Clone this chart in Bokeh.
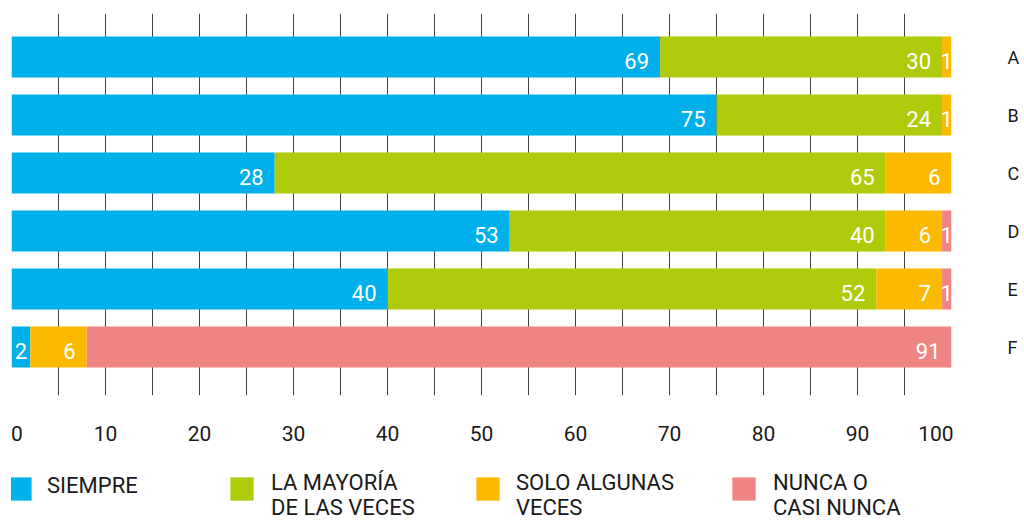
from bokeh.plotting import figure
from bokeh.layouts import column
from bokeh.models import (ColumnDataSource, Range1d, FixedTicker, SingleIntervalTicker,
                          Legend, LegendItem)
from bokeh.core.properties import value
from bokeh.embed import file_html
from bokeh.resources import INLINE

categories = ["A", "B", "C", "D", "E", "F"]
series_keys = ["siempre", "mayoria", "algunas", "nunca"]
series_names = ["SIEMPRE", "LA MAYORÍA\nDE LAS VECES", "SOLO ALGUNAS\nVECES", "NUNCA O\nCASI NUNCA"]
siempre = [69, 75, 28, 53, 40, 2]
mayoria = [30, 24, 65, 40, 52, 0]
algunas = [1, 1, 7, 6, 7, 6]
nunca = [0, 0, 0, 1, 1, 92]
siempre_lbl = ["69", "75", "28", "53", "40", "2"]
mayoria_lbl = ["30", "24", "65", "40", "52", ""]
algunas_lbl = ["1", "1", "6", "6", "7", "6"]
nunca_lbl = ["", "", "", "1", "1", "91"]
colors = ["#00B0EA", "#AFCA0B", "#FBBA00", "#F08482"]
x_ticks = [0, 10, 20, 30, 40, 50, 60, 70, 80, 90, 100]

FONT = "Roboto"
NB = "\u00a0"
ypos = list(range(len(categories)))

p = figure(width=1022, height=450, x_range=Range1d(0, 100), y_range=Range1d(5.836, -0.75),
           output_backend="svg", toolbar_location=None, y_axis_location="right",
           min_border_left=11, min_border_right=70, min_border_top=13, min_border_bottom=55)
p.outline_line_color = None

source = ColumnDataSource(dict(y=ypos, siempre=siempre, mayoria=mayoria, algunas=algunas, nunca=nunca))
renderers = p.hbar_stack(series_keys, y="y", height=0.707, fill_color=colors, line_color=None,
                         source=source)

# value labels
vals = [siempre, mayoria, algunas, nunca]
lbls = [siempre_lbl, mayoria_lbl, algunas_lbl, nunca_lbl]
rx, ry, rt, cx, cy, ct = [], [], [], [], [], []
for i in ypos:
    cum = 0
    for s in range(4):
        v = vals[s][i]
        start, cum = cum, cum + v
        t = lbls[s][i]
        if not t or v <= 0:
            continue
        if v < 3:
            cx.append((start + cum) / 2); cy.append(i); ct.append(t)
        else:
            rx.append(cum); ry.append(i); rt.append(t)

p.text(x="x", y="y", text="t", source=ColumnDataSource(dict(x=rx, y=ry, t=rt)),
       text_align="right", text_baseline="middle", x_offset=-11, y_offset=4,
       text_color="white", text_font=value(FONT), text_font_size="22px")
p.text(x="x", y="y", text="t", source=ColumnDataSource(dict(x=cx, y=cy, t=ct)),
       text_align="center", text_baseline="middle", y_offset=4,
       text_color="white", text_font=value(FONT), text_font_size="22px")

# grid
p.ygrid.visible = False
p.xgrid.ticker = SingleIntervalTicker(interval=5)
p.xgrid.grid_line_color = "#444444"
p.xgrid.grid_line_width = 1

# x axis
xa = p.xaxis[0]
xa.ticker = FixedTicker(ticks=x_ticks)
xa.major_label_overrides = {x_ticks[0]: NB * 2 + "0", x_ticks[-1]: "100" + NB * 6}
xa.axis_line_color = None
xa.major_tick_line_color = None
xa.minor_tick_line_color = None
xa.major_tick_out = 0
xa.major_tick_in = 0
xa.major_label_standoff = 26
xa.major_label_text_font = FONT
xa.major_label_text_font_size = "21px"
xa.major_label_text_color = "#1a1a1a"

# y axis (right)
ya = p.yaxis[0]
ya.ticker = FixedTicker(ticks=ypos)
ya.major_label_overrides = {i: c for i, c in zip(ypos, categories)}
ya.axis_line_color = None
ya.major_tick_line_color = None
ya.minor_tick_line_color = None
ya.major_tick_out = 0
ya.major_tick_in = 0
ya.major_label_standoff = 56
ya.major_label_text_font = FONT
ya.major_label_text_font_size = "18px"
ya.major_label_text_color = "#1a1a1a"

# legend panel
p2 = figure(width=1022, height=70, x_range=Range1d(0, 1), y_range=Range1d(0, 1),
            output_backend="svg", toolbar_location=None, min_border=0,
            x_axis_location=None, y_axis_location=None)
p2.outline_line_color = None
p2.grid.visible = False
leg_renderers = [p2.hbar(y="y", left=0, right=k, height=1, fill_color=c, line_color=None,
                         source=source, visible=False)
                 for k, c in zip(series_keys, colors)]

common = dict(padding=0, margin=0, border_line_color=None, background_fill_alpha=0,
              inactive_fill_alpha=0, label_text_font=FONT, label_text_font_size="22px",
              label_text_color="#1a1a1a", label_text_line_height=1.1)
sq_x = [-6, 216, 462, 718]
txt_x = [36, 260, 505, 762]
txt_y = [20, 0, 0, 0]
for r, name, sx, tx, ty in zip(leg_renderers, series_names, sq_x, txt_x, txt_y):
    # colour square
    p2.add_layout(Legend(items=[LegendItem(label=" ", renderers=[r])], location=(sx, 17),
                         glyph_width=29, glyph_height=29, label_standoff=0, **common), "center")
    # text
    p2.add_layout(Legend(items=[LegendItem(label=name, renderers=[r])], location=(tx, ty),
                         glyph_width=0, glyph_height=29, label_standoff=0, **common), "center")

layout = column(p, p2, spacing=0)
open("out.html", "w").write(file_html(layout, INLINE))
